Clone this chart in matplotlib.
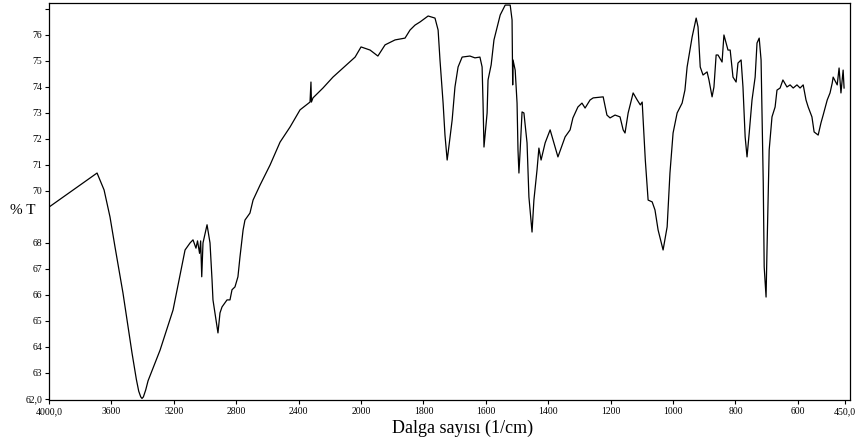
import numpy as np
import matplotlib
matplotlib.use('Agg')
import matplotlib.pyplot as plt

# wavenumber (1/cm) and transmittance (%T)
wavenumber = [4000, 3692, 3647, 3609, 3577, 3526, 3468, 3440, 3425, 3412, 3404, 3395,
              3380, 3365, 3288, 3205,
              3128, 3096, 3077, 3058, 3048, 3035, 3028, 3021, 3013, 2987, 2968, 2955,
              2949, 2923, 2917, 2904, 2891, 2859, 2840, 2827, 2808, 2789, 2776, 2756,
              2744, 2712, 2692, 2647, 2583, 2519, 2455, 2391, 2327, 2321, 2318, 2308,
              2244, 2180, 2115, 2058, 2038, 2000,
              1971, 1946, 1923, 1891, 1859, 1843, 1827, 1811, 1785, 1763, 1753, 1747,
              1737, 1731, 1724, 1721, 1708, 1699, 1689, 1676, 1651, 1635, 1619, 1612,
              1609, 1606, 1596, 1593, 1583, 1574, 1554, 1538, 1522, 1516, 1514, 1513,
              1506, 1500, 1497, 1494, 1490, 1484, 1478, 1468, 1462, 1452, 1446, 1436,
              1430, 1423, 1410, 1394, 1369, 1346, 1330, 1321, 1305, 1292, 1282, 1266,
              1256, 1224, 1212, 1202, 1186, 1170, 1160, 1154, 1144, 1128, 1115, 1105,
              1099, 1089, 1080, 1067, 1058, 1048, 1032, 1019, 1010, 1000, 987, 971,
              962, 955, 939, 926, 920, 913, 904, 891, 885, 875, 869, 862,
              856, 843, 837, 824, 817, 808, 798, 792, 782, 776, 769, 763,
              756, 747, 737, 731, 724, 718, 711, 708, 702, 699, 692, 683,
              673, 667, 657, 648, 635, 625, 615, 603, 593, 583, 574, 567,
              555, 548, 535, 526, 519, 506, 497, 490, 487, 474, 468, 462,
              455, 452]
transmittance = [69.38, 70.69, 70.04, 69.00, 67.85, 66.08, 63.77, 62.75, 62.30, 62.08, 62.02, 62.08,
                 62.35, 62.70, 63.88, 65.42,
                 67.73, 68.00, 68.12, 67.80, 68.08, 67.60, 68.08, 66.70, 68.00, 68.70, 68.00, 66.58,
                 65.81, 64.77, 64.54, 65.31, 65.54, 65.81, 65.81, 66.20, 66.31, 66.70, 67.46, 68.50,
                 68.88, 69.15, 69.65, 70.23, 71.00, 71.88, 72.46, 73.12, 73.42, 74.19, 73.42, 73.58,
                 73.96, 74.38, 74.73, 75.04, 75.15, 75.54,
                 75.42, 75.19, 75.62, 75.81, 75.88, 76.19, 76.38, 76.50, 76.73, 76.65, 76.19, 75.04,
                 73.38, 72.15, 71.19, 71.46, 72.73, 74.00, 74.77, 75.15, 75.19, 75.12, 75.15, 74.77,
                 73.38, 71.69, 73.00, 74.27, 74.85, 75.81, 76.77, 77.15, 77.15, 76.58, 74.08, 75.04,
                 74.65, 73.38, 71.58, 70.69, 71.58, 73.04, 73.00, 71.85, 69.77, 68.42, 69.65, 70.81,
                 71.65, 71.19, 71.85, 72.35, 71.31, 72.08, 72.35, 72.81, 73.23, 73.38, 73.19, 73.50,
                 73.58, 73.62, 72.92, 72.81, 72.92, 72.85, 72.35, 72.23, 73.00, 73.77, 73.50, 73.31,
                 73.42, 71.19, 69.65, 69.58, 69.27, 68.50, 67.73, 68.62, 70.69, 72.23, 73.00, 73.38,
                 73.88, 74.77, 75.92, 76.65, 76.31, 74.77, 74.46, 74.58, 74.27, 73.62, 74.00, 75.23,
                 75.23, 74.96, 76.00, 75.42, 75.42, 74.38, 74.19, 74.92, 75.04, 74.00, 72.08, 71.31,
                 72.23, 73.50, 74.38, 75.69, 75.88, 75.04, 70.31, 67.08, 65.92, 67.73, 71.58, 72.85,
                 73.23, 73.88, 73.96, 74.27, 74.00, 74.08, 73.96, 74.08, 73.96, 74.08, 73.50, 73.23,
                 72.85, 72.27, 72.15, 72.62, 72.92, 73.50, 73.77, 74.15, 74.38, 74.08, 74.73, 73.77,
                 74.65, 73.96]

x_ticks = [4000, 3600, 3200, 2800, 2400, 2000, 1800, 1600, 1400, 1200, 1000, 800, 600, 450]
x_labels = ['4000,0', '3600', '3200', '2800', '2400', '2000', '1800', '1600', '1400',
            '1200', '1000', '800', '600', '450,0']
y_ticks = [62, 63, 64, 65, 66, 67, 68, 70, 71, 72, 73, 74, 75, 76, 77]
y_labels = ['62,0', '63', '64', '65', '66', '67', '68', '70', '71', '72', '73',
            '74', '75', '76', '']


# x axis is expanded 2x below 2000 1/cm
def forward(x):
    x = np.asarray(x, dtype=float)
    return np.where(x >= 2000, x, 2 * x - 2000)


def inverse(u):
    u = np.asarray(u, dtype=float)
    return np.where(u >= 2000, u, (u + 2000) / 2)


fig = plt.figure(figsize=(8.55, 4.43), dpi=100)
ax = fig.add_axes([49 / 855, 1 - 400 / 443, 801 / 855, 397 / 443])
ax.set_xscale('function', functions=(forward, inverse))
ax.plot(wavenumber, transmittance, color='black', lw=0.9)
ax.set_xlim(4000, 433)
ax.set_ylim(61.96, 77.23)

ax.set_xticks(x_ticks)
ax.set_xticklabels(x_labels)
ax.set_yticks(y_ticks)
ax.set_yticklabels(y_labels)
ax.minorticks_off()
ax.tick_params(direction='out', length=3, width=0.8, pad=2, labelsize=7)
for lab in ax.get_xticklabels() + ax.get_yticklabels():
    lab.set_family('Liberation Serif')
for sp in ax.spines.values():
    sp.set_linewidth(0.9)

fig.text(0.012, 1 - 210 / 443, '% T', family='Liberation Serif', fontsize=11,
         va='center', ha='left')
fig.text(463 / 855, 1 - 428 / 443, 'Dalga sayısı (1/cm)', family='Liberation Serif',
         fontsize=13, va='center', ha='center')

fig.savefig('out.png', dpi=100)
